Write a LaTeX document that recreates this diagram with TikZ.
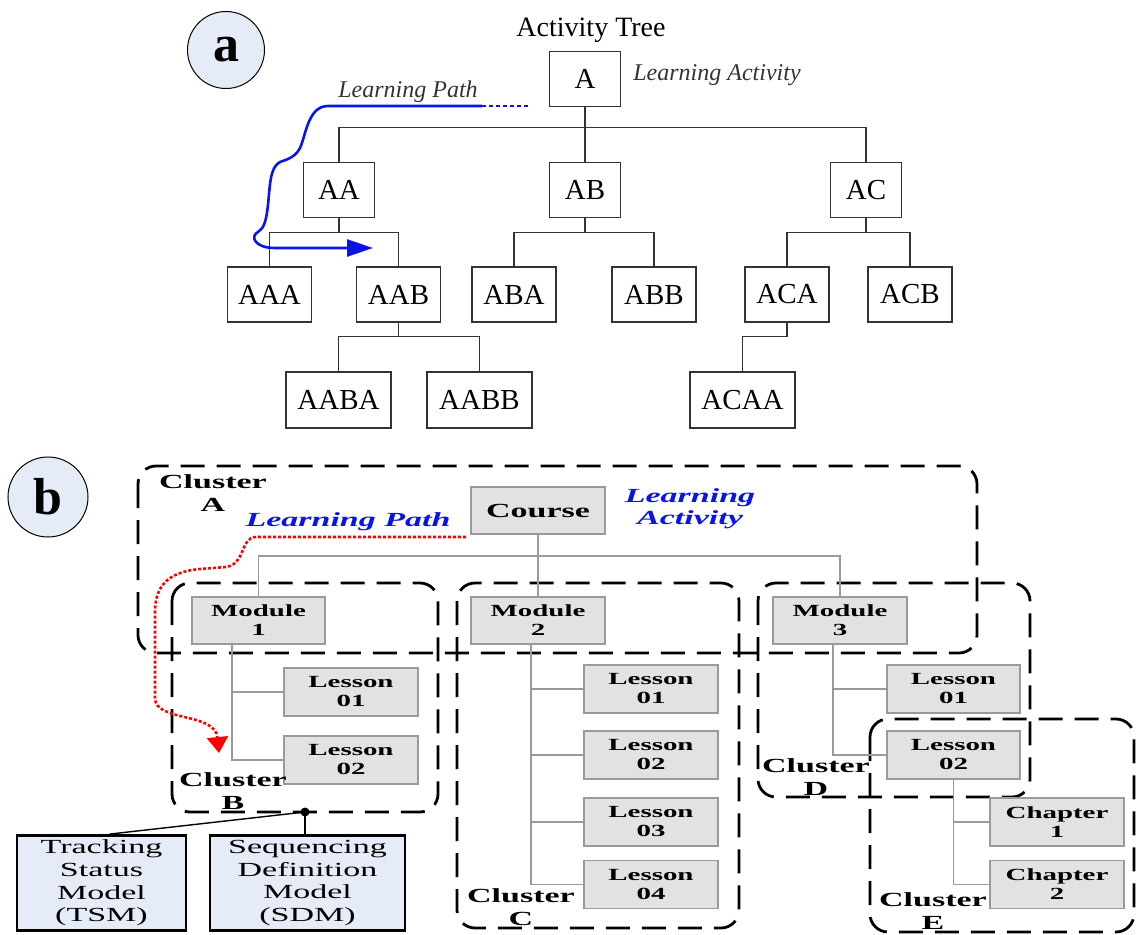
\documentclass[tikz,border=0pt]{standalone}
\usepackage{fontspec}
\setmainfont{Liberation Serif}
\usepackage{graphicx}
\usetikzlibrary{arrows.meta}
% wide lettering used throughout the cluster diagram
\newcommand{\wx}[1]{\scalebox{1.7}[1]{#1}}
\definecolor{panelfill}{HTML}{E6ECF7}
\definecolor{boxgray}{HTML}{E2E2E2}
\definecolor{edgegray}{HTML}{9A9A9A}
\definecolor{pathblue}{HTML}{0A14E6}

\begin{document}
\begin{tikzpicture}[x=1pt,y=-1pt,
  tagcircle/.style={draw=black, line width=1pt, fill=panelfill, circle, minimum size=77pt, inner sep=0pt,
                    font=\bfseries\fontsize{52}{52}\selectfont},
  tbox/.style={draw=black!80, line width=1.2pt, fill=white, inner sep=0pt, minimum width=#1, minimum height=55pt,
               font=\fontsize{29}{30}\selectfont},
  tbox/.default=71pt,
  atree/.style={draw=black!80, line width=1.2pt},
  gbox/.style={draw=edgegray, line width=1.4pt, fill=boxgray, inner sep=0pt, minimum width=134pt, minimum height=48pt,
               align=center, font=\bfseries\fontsize{17}{19}\selectfont},
  btree/.style={draw=edgegray, line width=1.2pt},
  cluster/.style={draw=black, line width=2.8pt, dash pattern=on 24pt off 12pt, rounded corners=18pt},
  clabel/.style={align=center, inner sep=0pt, font=\bfseries\fontsize{20}{23}\selectfont},
  modelbox/.style={draw=black, line width=2.8pt, fill=panelfill, inner sep=0pt, minimum height=95pt,
                   align=center, font=\fontsize{20}{22.7}\selectfont},
  bluetext/.style={text=pathblue, font=\bfseries\itshape\fontsize{20}{22}\selectfont, align=center, inner sep=0pt}
]
\useasboundingbox (0,0) rectangle (1136,935);

% ---------------- (a) activity tree ----------------
\node[tagcircle] (taga) at (226,50) {a};
\node[font=\fontsize{28}{30}\selectfont, inner sep=0pt] (title) at (591,30) {Activity Tree};

\node[tbox] (A)  at (585,79)  {A};
\node[text=black!80, font=\itshape\fontsize{24}{26}\selectfont, inner sep=0pt] (actlbl) at (717,75) {Learning Activity};
\node[text=black!80, font=\itshape\fontsize{24}{26}\selectfont, inner sep=0pt] (pathlbl) at (408,92) {Learning Path};

\node[tbox] (AA) at (339,190) {AA};
\node[tbox] (AB) at (585,190) {AB};
\node[tbox] (AC) at (866,190) {AC};

\node[tbox=84pt] (AAA) at (269.5,294.5) {AAA};
\node[tbox=84pt] (AAB) at (398.5,294.5) {AAB};
\node[tbox=84pt] (ABA) at (514,294.5) {ABA};
\node[tbox=84pt] (ABB) at (654,294.5) {ABB};
\node[tbox=84pt] (ACA) at (787,294.5) {ACA};
\node[tbox=84pt] (ACB) at (910,294.5) {ACB};

\node[tbox=105pt, minimum height=56pt] (AABA) at (338.5,400) {AABA};
\node[tbox=105pt, minimum height=56pt] (AABB) at (479.5,400) {AABB};
\node[tbox=105pt, minimum height=56pt] (ACAA) at (742.5,400) {ACAA};

% tree connectors
\draw[atree] (A.south) -- ++(0,20) -| (AA.north);
\draw[atree] (A.south) ++(0,20) -| (AC.north);
\draw[atree] (A.south) -- (AB.north);
\draw[atree] (AA.south) -- ++(0,14) -| (AAA.north);
\draw[atree] (AA.south) ++(0,14) -| (AAB.north);
\draw[atree] (AB.south) -- ++(0,14) -| (ABA.north);
\draw[atree] (AB.south) ++(0,14) -| (ABB.north);
\draw[atree] (AC.south) -- ++(0,14) -| (ACA.north);
\draw[atree] (AC.south) ++(0,14) -| (ACB.north);
\draw[atree] (AAB.south) -- ++(0,14) -| (AABA.north);
\draw[atree] (AAB.south) ++(0,14) -| (AABB.north);
\draw[atree] (ACA.south) -- ++(0,14) -| (ACAA.north);

% learning path
\coordinate (lpstart) at (528,106);
\coordinate (lpbreak) at (482,106);
\coordinate (lpend) at (373,248);
\draw[pathblue, line width=2.6pt, dash pattern=on 4pt off 3pt] (lpstart) -- (lpbreak);
\draw[pathblue, line width=2.6pt, -{Triangle[length=26pt,width=17pt]}]
  (lpbreak) -- (328,106)
  .. controls (308,106) and (306,135) .. (300,148)
  .. controls (295,158) and (285,160) .. (280,162)
  .. controls (270,167) and (270,185) .. (268,205)
  .. controls (266,222) and (264,228) .. (258,232)
  .. controls (250,236) and (254,248) .. (275,248)
  -- (lpend);

% ---------------- (b) clustered course ----------------
\node[tagcircle, minimum size=80pt] (tagb) at (48,497) {b};

% clusters
\draw[cluster] (138,466) rectangle (977,653);
\draw[cluster] (172,583) rectangle (438,812);
\draw[cluster] (457,583) rectangle (739,928);
\draw[cluster] (758,583) rectangle (1030,797);
\draw[cluster] (870,719) rectangle (1134,932);

\node[gbox, minimum height=47pt, font=\bfseries\fontsize{20}{22}\selectfont] (course) at (538,510.5) {\wx{Course}};
\node[bluetext] (bact) at (690,509) {\wx{Learning}\\\wx{Activity}};
\node[bluetext] (bpath) at (348,522) {\wx{Learning Path}};

\node[gbox, minimum width=133pt, minimum height=47pt] (M1) at (258.5,620.5) {\wx{Module}\\\wx{1}};
\node[gbox, minimum height=47pt] (M2) at (538,620.5) {\wx{Module}\\\wx{2}};
\node[gbox, minimum height=47pt] (M3) at (840,620.5) {\wx{Module}\\\wx{3}};

\node[gbox] (LB1) at (351,692) {\wx{Lesson}\\\wx{01}};
\node[gbox] (LB2) at (351,760) {\wx{Lesson}\\\wx{02}};

\node[gbox] (LC1) at (651,689) {\wx{Lesson}\\\wx{01}};
\node[gbox] (LC2) at (651,755) {\wx{Lesson}\\\wx{02}};
\node[gbox] (LC3) at (651,822) {\wx{Lesson}\\\wx{03}};
\node[gbox] (LC4) at (651,884.5) {\wx{Lesson}\\\wx{04}};

\node[gbox, minimum width=133pt] (LD1) at (953.5,689) {\wx{Lesson}\\\wx{01}};
\node[gbox, minimum width=133pt] (LD2) at (953.5,755) {\wx{Lesson}\\\wx{02}};

\node[gbox] (CH1) at (1057,822) {\wx{Chapter}\\\wx{1}};
\node[gbox] (CH2) at (1057,884.5) {\wx{Chapter}\\\wx{2}};

% course tree connectors
\coordinate (cbar) at (538,556);
\draw[btree] (course.south) -- (M2.north);
\draw[btree] (M1.north) |- (cbar) -| (M3.north);
\draw[btree] ([xshift=-26.5pt]M1.south) |- (LB1.west);
\draw[btree] ([xshift=-26.5pt]M1.south) |- (LB2.west);
\draw[btree] ([xshift=-7pt]M2.south) |- (LC1.west);
\draw[btree] ([xshift=-7pt]M2.south) |- (LC2.west);
\draw[btree] ([xshift=-7pt]M2.south) |- (LC3.west);
\draw[btree] ([xshift=-7pt]M2.south) |- (LC4.west);
\draw[btree] ([xshift=-7pt]M3.south) |- (LD1.west);
\draw[btree] ([xshift=-7pt]M3.south) |- (LD2.west);
\draw[btree] (LD2.south) |- (CH1.west);
\draw[btree] (LD2.south) |- (CH2.west);

% cluster labels
\node[clabel] (clA) at (213,493) {\wx{Cluster}\\\wx{A}};
\node[clabel] (clB) at (233,791) {\wx{Cluster}\\\wx{B}};
\node[clabel] (clC) at (521,907) {\wx{Cluster}\\\wx{C}};
\node[clabel] (clD) at (816,777) {\wx{Cluster}\\\wx{D}};
\node[clabel] (clE) at (933,911) {\wx{Cluster}\\\wx{E}};

% learning path through the course
\coordinate (rpstart) at (466,537);
\coordinate (rpend) at (219,753);
\draw[red, line width=2.6pt, dash pattern=on 3pt off 2pt, -{Triangle[length=16pt,width=21pt]}]
  (rpstart) -- (256,537)
  .. controls (240,537) and (246,564) .. (226,567)
  -- (200,569)
  .. controls (166,572) and (155,588) .. (155,612)
  -- (155,698)
  .. controls (155,722) and (215,712) .. (rpend);

% tracking and sequencing models attached to cluster B
\node[modelbox, minimum width=169pt] (TSM) at (101.5,883) {\wx{Tracking}\\\wx{Status}\\\wx{Model}\\\wx{(TSM)}};
\node[modelbox, minimum width=195pt] (SDM) at (307.5,883) {\wx{Sequencing}\\\wx{Definition}\\\wx{Model}\\\wx{(SDM)}};
\coordinate (bdot) at (305,812);
\draw[line width=1.4pt] (bdot) -- ([xshift=8pt]TSM.north);
\draw[line width=1.4pt] (bdot) -- (bdot |- SDM.north);
\fill (bdot) circle (4.5pt);

\end{tikzpicture}
\end{document}
